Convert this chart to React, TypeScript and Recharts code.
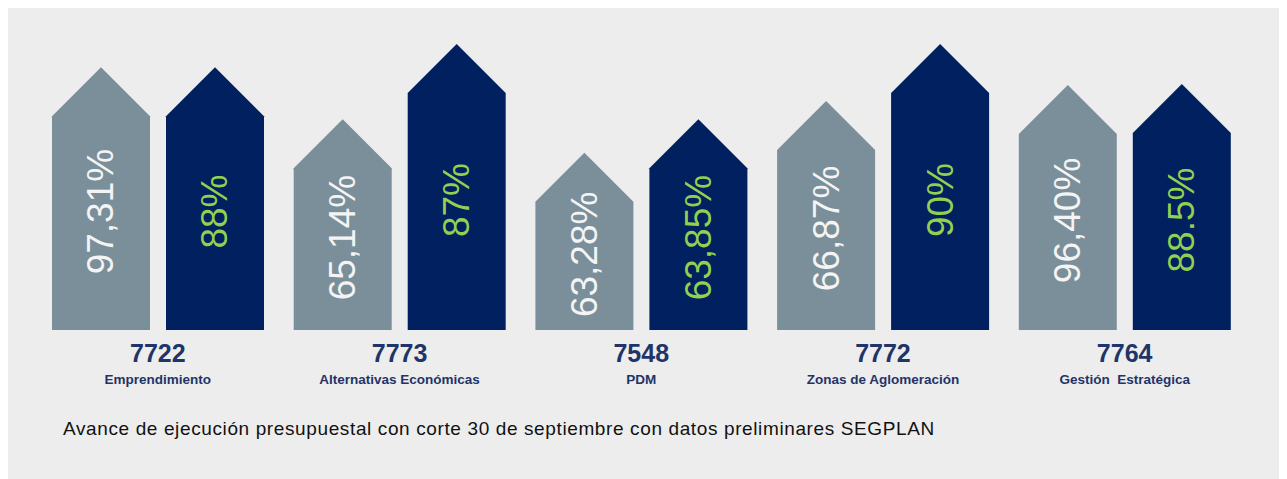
import { BarChart, Bar, XAxis, YAxis, LabelList } from 'recharts';

const proyectos = ['7722', '7773', '7548', '7772', '7764'];
const nombres = ['Emprendimiento', 'Alternativas Económicas', 'PDM', 'Zonas de Aglomeración', 'Gestión\u00a0 Estratégica'];
const ejecucionTexto = ['97,31%', '65,14%', '63,28%', '66,87%', '96,40%'];
const metaTexto = ['88%', '87%', '63,85%', '90%', '88.5%'];
// alturas de las flechas tal como se ven en la imagen (0-100)
const alturaEjecucion = [91.9, 73.7, 62.0, 80.1, 85.7];
const alturaMeta = [91.9, 100, 73.7, 100, 86.0];

const datos = proyectos.map((p, i) => ({
  proyecto: p,
  nombre: nombres[i],
  ejecucion: alturaEjecucion[i],
  meta: alturaMeta[i],
  ejecucionTexto: ejecucionTexto[i],
  metaTexto: metaTexto[i],
}));

const FUENTE = 'Arial, "Liberation Sans", sans-serif';
const AZUL = '#002060';
const GRIS = '#7b8f9a';
const TEXTO_AZUL = '#1f3468';

function Flecha(props: any) {
  const { x, y, width, height, fill } = props;
  if (!width || !height) return null;
  const punta = width / 2;
  const d = `M${x},${y + height} L${x},${y + punta} L${x + width / 2},${y} L${x + width},${y + punta} L${x + width},${y + height} Z`;
  return <path d={d} fill={fill} />;
}

function etiqueta(color: string) {
  return (props: any) => {
    const { x, y, width, height, value } = props;
    const cx = x + width / 2;
    const top = y + width / 2;
    const cy = (top + y + height) / 2 - 11.5;
    return (
      <text
        x={cx}
        y={cy}
        transform={`rotate(-90 ${cx} ${cy})`}
        textAnchor="middle"
        dominantBaseline="central"
        fill={color}
        fontSize={37}
        fontFamily={FUENTE}
      >
        {value}
      </text>
    );
  };
}

function TickProyecto(props: any) {
  const { x, y, payload } = props;
  return (
    <g>
      <text x={x} y={y + 32} textAnchor="middle" fill={TEXTO_AZUL} fontSize={25} fontWeight="bold" fontFamily={FUENTE}>
        {payload.value}
      </text>
      <text x={x} y={y + 54} textAnchor="middle" fill={TEXTO_AZUL} fontSize={13.5} fontWeight="bold" fontFamily={FUENTE}>
        {nombres[payload.index]}
      </text>
    </g>
  );
}

export default function App() {
  return (
    <div style={{ marginLeft: -3, width: 1279, height: 471, background: '#ededed', position: 'relative', fontFamily: FUENTE }}>
      <BarChart
        width={1279}
        height={400}
        data={datos}
        margin={{ top: 36, right: 38.5, bottom: 0, left: 32 }}
        barGap={16}
        barSize={98}
      >
        <XAxis
          dataKey="proyecto"
          axisLine={false}
          tickLine={false}
          tickSize={0}
          tickMargin={0}
          height={78}
          interval={0}
          tick={<TickProyecto />}
        />
        <YAxis hide domain={[0, 100]} />
        <Bar dataKey="ejecucion" fill={GRIS} shape={<Flecha />} isAnimationActive={false}>
          <LabelList dataKey="ejecucionTexto" content={etiqueta('#f4f4f4')} />
        </Bar>
        <Bar dataKey="meta" fill={AZUL} shape={<Flecha />} isAnimationActive={false}>
          <LabelList dataKey="metaTexto" content={etiqueta('#92d050')} />
        </Bar>
      </BarChart>
      <div
        style={{
          position: 'absolute',
          left: 58,
          top: 410,
          fontSize: 19,
          letterSpacing: 0.62,
          color: '#111',
          whiteSpace: 'nowrap',
        }}
      >
        Avance de ejecución presupuestal con corte 30 de septiembre con datos preliminares SEGPLAN
      </div>
    </div>
  );
}
